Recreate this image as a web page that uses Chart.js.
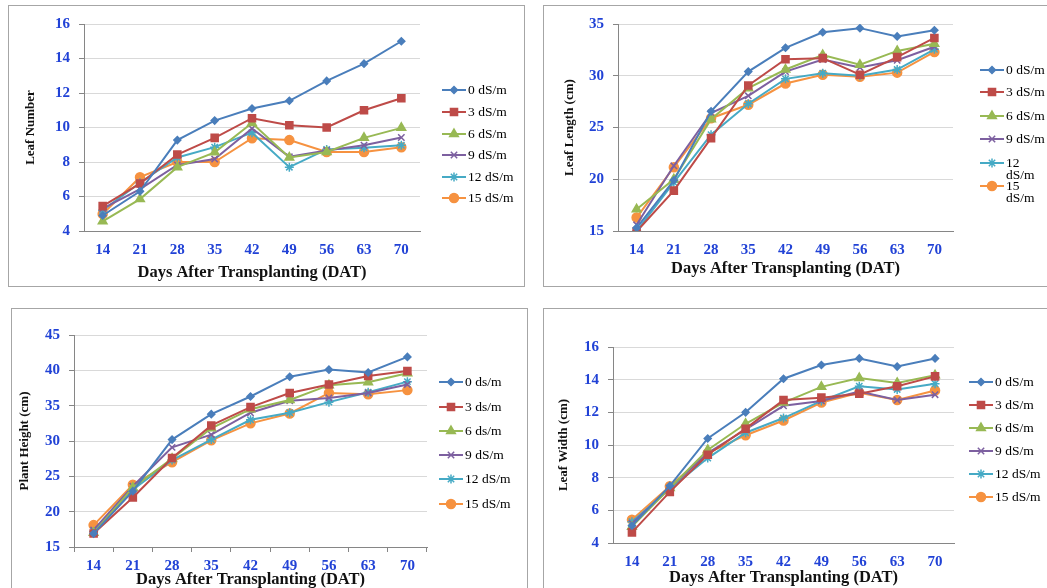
<!DOCTYPE html>
<html>
<head>
<meta charset="utf-8">
<script src="https://cdn.jsdelivr.net/npm/chart.js@4.4.1/dist/chart.umd.min.js"></script>
<style>
  body { margin: 0; background: #fff; width: 1047px; height: 588px; overflow: hidden; position: relative; }
  .panel { position: absolute; border: 1px solid #a6a6a6; background: #fff; }
  .panel canvas { display: block; }
</style>
</head>
<body>
<div class="panel" style="left:8px;top:5px;"><canvas id="c1" width="515" height="280"></canvas></div>
<div class="panel" style="left:543px;top:5px;"><canvas id="c2" width="520" height="280"></canvas></div>
<div class="panel" style="left:11px;top:308px;"><canvas id="c3" width="515" height="290"></canvas></div>
<div class="panel" style="left:543px;top:308px;"><canvas id="c4" width="520" height="290"></canvas></div>
<script>
// days after transplanting
const days = ['14', '21', '28', '35', '42', '49', '56', '63', '70']

// leaf number
const leafNum0  = [4.9, 6.3, 9.27, 10.4, 11.1, 11.55, 12.7, 13.7, 15.0]
const leafNum3  = [5.44, 6.75, 8.43, 9.4, 10.54, 10.13, 10.0, 11.0, 11.7]
const leafNum6  = [4.56, 5.85, 7.7, 8.56, 10.26, 8.26, 8.58, 9.4, 9.98]
const leafNum9  = [5.3, 6.43, 7.83, 8.17, 9.94, 8.3, 8.67, 8.97, 9.42]
const leafNum12 = [5.2, 6.8, 8.26, 8.86, 9.7, 7.7, 8.73, 8.82, 8.97]
const leafNum15 = [4.99, 7.12, 8.0, 8.0, 9.38, 9.27, 8.58, 8.58, 8.86]

// leaf length (cm)
const leafLen0  = [15.3, 19.9, 26.56, 30.4, 32.7, 34.2, 34.6, 33.8, 34.4]
const leafLen3  = [14.95, 18.9, 23.97, 29.06, 31.6, 31.7, 30.1, 31.8, 33.65]
const leafLen6  = [17.1, 20.0, 25.8, 28.8, 30.6, 32.0, 31.06, 32.4, 33.1]
const leafLen9  = [15.6, 21.3, 26.4, 28.06, 30.4, 31.56, 30.8, 31.5, 32.8]
const leafLen12 = [15.0, 19.7, 24.3, 27.3, 29.7, 30.25, 30.0, 30.6, 32.56]
const leafLen15 = [16.3, 21.16, 25.9, 27.2, 29.25, 30.1, 29.9, 30.3, 32.3]

// plant height (cm)
const height0  = [16.9, 22.9, 30.2, 33.8, 36.3, 39.1, 40.1, 39.7, 41.9]
const height3  = [16.9, 22.0, 27.6, 32.2, 34.8, 36.8, 38.0, 39.2, 39.9]
const height6  = [17.0, 23.4, 27.5, 31.8, 34.5, 35.8, 37.9, 38.3, 39.6]
const height9  = [17.4, 23.6, 29.1, 30.9, 34.0, 35.7, 36.1, 36.8, 38.0]
const height12 = [17.2, 23.1, 27.3, 30.2, 33.0, 34.0, 35.5, 36.9, 38.4]
const height15 = [18.1, 23.8, 27.0, 30.1, 32.5, 33.9, 36.8, 36.6, 37.2]

// leaf width (cm)
const leafWid0  = [5.06, 7.5, 10.4, 12.0, 14.06, 14.9, 15.3, 14.8, 15.3]
const leafWid3  = [4.65, 7.13, 9.4, 11.0, 12.75, 12.9, 13.14, 13.6, 14.2]
const leafWid6  = [5.0, 7.37, 9.7, 11.3, 12.6, 13.56, 14.1, 13.8, 14.27]
const leafWid9  = [5.2, 7.37, 9.5, 10.95, 12.4, 12.7, 13.27, 12.75, 13.08]
const leafWid12 = [5.3, 7.3, 9.2, 10.75, 11.65, 12.7, 13.6, 13.4, 13.75]
const leafWid15 = [5.43, 7.48, 9.5, 10.6, 11.5, 12.6, 13.2, 12.75, 13.34]

const labelsDS = ['0 dS/m', '3 dS/m', '6 dS/m', '9 dS/m', '12 dS/m', '15 dS/m']
const labelsLen = ['0 dS/m', '3 dS/m', '6 dS/m', '9 dS/m', ['12', 'dS/m'], ['15', 'dS/m']]
const labelsHeight = ['0 ds/m', '3 ds/m', '6 ds/m', '9 dS/m', '12 dS/m', '15 dS/m']

const colors = ['#4a7ebb', '#be4b48', '#98b954', '#7d60a0', '#46aac5', '#f69240']
const markers = ['rectRot', 'rect', 'triangle', 'crossRot', 'star', 'circle']
const sizes = [3.5, 5, 5, 4.5, 4.5, 4.5]

const serif = '"Liberation Serif", "Times New Roman", serif'
const tickBlue = '#2142d6'

// excel-ish legend: short line with the marker on it, text to the right
const excelLegend = {
  id: 'excelLegend',
  afterDraw(chart, args, o) {
    const ctx = chart.ctx
    ctx.save()
    chart.data.datasets.forEach((ds, i) => {
      const y = o.rows[i]
      ctx.strokeStyle = ds.borderColor
      ctx.fillStyle = ds.pointBackgroundColor
      ctx.lineWidth = 2
      ctx.beginPath()
      ctx.moveTo(o.x, y)
      ctx.lineTo(o.x + 24, y)
      ctx.stroke()
      ctx.lineWidth = 1.5
      ctx.strokeStyle = ds.pointBorderColor
      Chart.helpers.drawPoint(ctx, {pointStyle: ds.pointStyle, radius: ds.pointRadius, borderWidth: 1.5, rotation: 0}, o.x + 12, y)
      ctx.fillStyle = '#000'
      ctx.font = '13.5px ' + serif
      ctx.textBaseline = 'middle'
      const lines = Array.isArray(ds.label) ? ds.label : [ds.label]
      lines.forEach((t, k) => ctx.fillText(t, o.x + 26, y + k * 12))
    })
    ctx.restore()
  }
}

function makeSets(series, names) {
  return series.map((d, i) => ({
    label: names[i],
    data: d,
    borderColor: colors[i],
    backgroundColor: colors[i],
    pointBackgroundColor: colors[i],
    pointBorderColor: colors[i],
    pointStyle: markers[i],
    pointRadius: sizes[i],
    pointBorderWidth: 1.5,
    borderWidth: 2,
    tension: 0,
  }))
}

function makeChart(id, sets, yMin, yMax, step, yTitle, cfg) {
  new Chart(document.getElementById(id), {
    type: 'line',
    data: { labels: days, datasets: sets },
    plugins: [excelLegend],
    options: {
      responsive: false,
      animation: false,
      layout: { padding: cfg.pad },
      plugins: {
        legend: { display: false },
        tooltip: { enabled: false },
        excelLegend: cfg.legend,
      },
      scales: {
        x: {
          offset: true,
          afterFit: s => { s.height = cfg.xH },
          grid: {
            offset: true,
            drawOnChartArea: false,
            drawTicks: cfg.xTicks,
            tickLength: 5,
            color: '#868686',
          },
          border: { color: '#868686', width: 1 },
          ticks: {
            color: tickBlue,
            padding: cfg.xPad,
            font: { family: serif, size: 15, weight: 'bold' },
          },
          title: {
            display: true,
            text: 'Days After Transplanting (DAT)',
            color: '#111',
            padding: 0,
            font: { family: serif, size: 16.5, weight: 'bold' },
          },
        },
        y: {
          min: yMin,
          max: yMax,
          afterFit: s => { s.width = cfg.yW },
          grid: {
            color: '#d9d9d9',
            drawTicks: true,
            tickLength: 5,
            tickColor: '#868686',
          },
          border: { color: '#868686', width: 1 },
          ticks: {
            stepSize: step,
            color: tickBlue,
            padding: 9,
            font: { family: serif, size: 15, weight: 'bold' },
          },
          title: {
            display: true,
            text: yTitle,
            color: '#111',
            padding: 0,
            font: { family: serif, size: 13, weight: 'bold' },
          },
        },
      },
    },
  })
}

makeChart('c1',
  makeSets([leafNum0, leafNum3, leafNum6, leafNum9, leafNum12, leafNum15], labelsDS),
  4, 16, 2, 'Leaf Number',
  { pad: { left: 14, top: 11, right: 104, bottom: 3 }, yW: 61, xH: 52, xPad: 10, xTicks: false,
    legend: { x: 433, rows: [84, 106, 128, 149, 171, 192] } })

makeChart('c2',
  makeSets([leafLen0, leafLen3, leafLen6, leafLen9, leafLen12, leafLen15], labelsLen),
  15, 35, 5, 'Leaf Length (cm)',
  { pad: { left: 18, top: 12, right: 111, bottom: 7 }, yW: 56, xH: 48, xPad: 10, xTicks: false,
    legend: { x: 436, rows: [64, 86, 110, 133, 157, 180] } })

makeChart('c3',
  makeSets([height0, height3, height6, height9, height12, height15], labelsHeight),
  15, 45, 5, 'Plant Height (cm)',
  { pad: { left: 5, top: 26, right: 100, bottom: 9 }, yW: 57, xH: 43, xPad: 5, xTicks: true,
    legend: { x: 427, rows: [73, 98, 122, 146, 170, 195] } })

makeChart('c4',
  makeSets([leafWid0, leafWid3, leafWid6, leafWid9, leafWid12, leafWid15], labelsDS),
  4, 16, 2, 'Leaf Width (cm)',
  { pad: { left: 12, top: 38, right: 110, bottom: 11 }, yW: 57, xH: 45, xPad: 10, xTicks: false,
    legend: { x: 425, rows: [73, 96, 119, 142, 165, 188] } })
</script>
</body>
</html>
